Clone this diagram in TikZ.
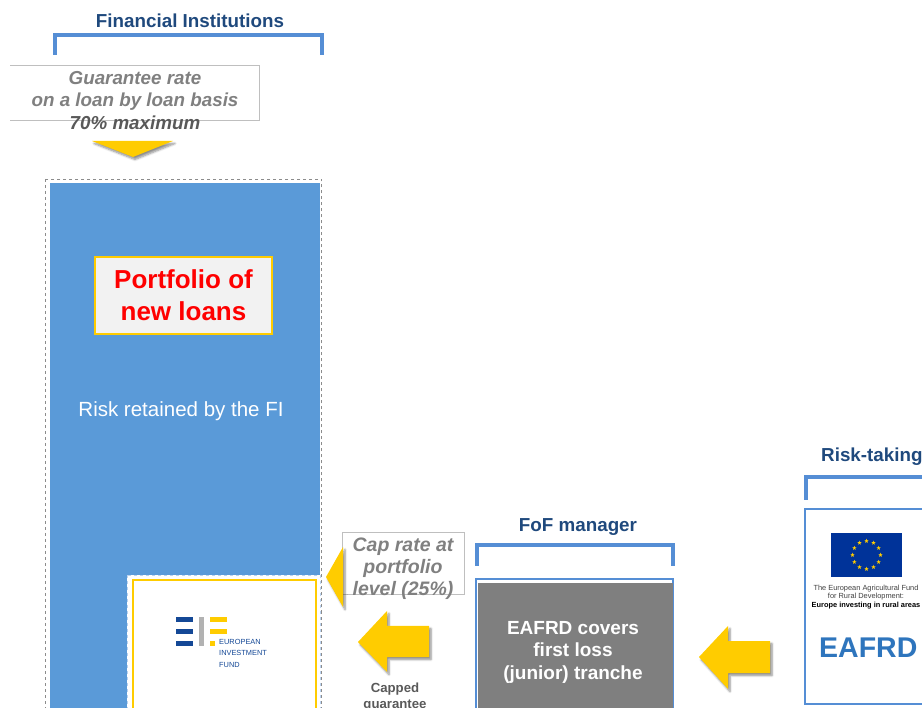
\documentclass[tikz,border=0pt]{standalone}
\usepackage{fontspec}
\setmainfont{Liberation Sans}
\usepackage{xcolor}
\usetikzlibrary{calc,shadows.blur,shapes.geometric}
\definecolor{titleblue}{RGB}{31,73,125}
\definecolor{bracketblue}{RGB}{85,142,213}
\definecolor{fiblue}{RGB}{90,154,216}
\definecolor{gold}{RGB}{255,204,0}
\definecolor{notegray}{RGB}{128,128,128}
\definecolor{darknote}{RGB}{89,89,89}
\definecolor{boxgray}{RGB}{242,242,242}
\definecolor{tranchegray}{RGB}{127,127,127}
\definecolor{eifblue}{RGB}{20,72,150}
\definecolor{flagblue}{RGB}{0,51,153}
\definecolor{eafrdblue}{RGB}{46,117,189}
\tikzset{
	bracket/.style={draw=bracketblue, line width=4pt},
	heading/.style={font=\fontsize{18.8}{22}\selectfont\bfseries, text=titleblue},
	note/.style={font=\fontsize{18.8}{22.5}\selectfont\bfseries\itshape, text=notegray, align=center, inner sep=0},
	goldarrow/.style={fill=gold, draw=none, blur shadow={shadow xshift=2pt, shadow yshift=-2.5pt, shadow blur steps=6, shadow opacity=45}}
}

\begin{document}
\begin{tikzpicture}[x=1pt, y=-1pt]
			\useasboundingbox (0,0) rectangle (922,708);

			\node[heading] (fi) at (190,21) {Financial Institutions};
			\draw[bracket] (55,55) -- (55,35) -- (322,35) -- (322,55);

			\draw[draw=black!25, fill=white] (10,65) -- (259,65) -- (259,120) -- (10,120);
			\node[note] (rate) at (135,100.5) {Guarantee rate\\on a loan by loan basis\\{\color{darknote}70\% maximum}};
			\fill[goldarrow] (92,141) -- (173,141) -- (133,157) -- cycle;

			\draw[dashed, draw=black!45] (45,179) rectangle (321.5,720);
			\fill[fiblue] (50,183) rectangle (320,720);
			\node[draw=gold, line width=2pt, fill=boxgray, minimum width=177pt, minimum height=77pt, align=center, inner sep=0,
				font=\fontsize{26}{32}\selectfont\bfseries, text=red] (loans) at (183.5,295.5) {Portfolio of\\new loans};
			\node[font=\fontsize{20.5}{24}\selectfont, text=white] (retained) at (181,411) {Risk retained by the FI};

			\draw[dashed, draw=bracketblue!40, fill=white] (127,575) rectangle (320,720);
			\draw[draw=gold, line width=2pt] (133,580) rectangle (316,720);
			\foreach \y in {617,629,641} {
				\fill[eifblue] (176,\y) rectangle (193,{\y+5});
			}
			\fill[black!30] (199,617) rectangle (204,646);
			\foreach \y in {617,629} {
				\fill[gold] (210,\y) rectangle (227,{\y+5});
			}
			\fill[gold] (210,641) rectangle (215,646);
			\node[font=\fontsize{7.4}{11.5}\selectfont, text=eifblue, align=left, anchor=north west, inner sep=0] (eif) at (219,639) {EUROPEAN\\INVESTMENT\\FUND};

			\draw[draw=black!25] (342,532) rectangle (464,594);
			\node[note, font=\fontsize{19.5}{22}\selectfont\bfseries\itshape] (cap) at (403,569) {Cap rate at\\portfolio\\level (25\%)};
			\fill[goldarrow] (343,547) -- (326,577) -- (343,607) -- cycle;

			\fill[goldarrow] (358,642) -- (387,611) -- (387,626) -- (429,626) -- (429,657) -- (387,657) -- (387,672) -- cycle;
			\node[font=\fontsize{13.2}{16}\selectfont\bfseries, text=darknote, align=center] (capped) at (395,697) {Capped\\guarantee};

			\node[heading] (fof) at (578,527) {FoF manager};
			\draw[bracket] (477,566) -- (477,545) -- (673,545) -- (673,566);
			\draw[draw=bracketblue, line width=1.2pt] (476,579) rectangle (673,720);
			\fill[tranchegray] (478,583) rectangle (673,720);
			\node[font=\fontsize{19}{22.5}\selectfont\bfseries, text=white, align=center] (tranche) at (573,652) {EAFRD covers\\first loss\\(junior) tranche};

			\fill[goldarrow] (699,657) -- (728,626) -- (728,641) -- (770,641) -- (770,673) -- (728,673) -- (728,689) -- cycle;

			\node[heading, anchor=west, inner sep=0] (risk) at (821,457) {Risk-taking};
			\draw[bracket] (806,500) -- (806,477) -- (940,477);
			\draw[draw=bracketblue, line width=1.5pt, fill=white] (805,509) rectangle (940,704);
			\fill[flagblue] (831,533) rectangle (902,577);
			\foreach \a in {0,30,...,330} {
				\node[star, star points=5, star point ratio=2.4, fill=gold, inner sep=0, minimum size=4.5pt] at ($(866.5,555)+(\a:14pt)$) {};
			}
			\node[font=\fontsize{7.4}{8.5}\selectfont, align=center, text=black!75] (fund) at (866,597) {The European Agricultural Fund\\for Rural Development:\\{\bfseries\color{black}Europe investing in rural areas}};
			\node[font=\fontsize{28.5}{30}\selectfont\bfseries, text=eafrdblue, anchor=west, inner sep=0] (eafrd) at (819,648) {EAFRD};
		\end{tikzpicture}
\end{document}
